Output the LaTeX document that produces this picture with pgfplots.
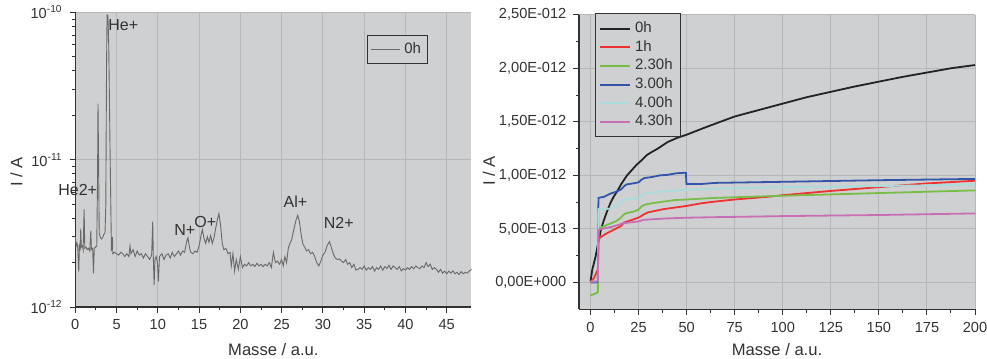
\documentclass[border=0pt]{standalone}
\usepackage{pgfplots}
\pgfplotsset{compat=1.18}
\usepackage{fontspec}
\setmainfont{Liberation Sans}
\definecolor{bg}{RGB}{207,208,210}
\definecolor{gridc}{RGB}{182,183,185}
\definecolor{spec}{RGB}{105,105,105}
\definecolor{c0}{RGB}{35,35,35}
\definecolor{c1}{RGB}{238,50,50}
\definecolor{c2}{RGB}{120,190,70}
\definecolor{c3}{RGB}{50,85,170}
\definecolor{c4}{RGB}{170,220,220}
\definecolor{c5}{RGB}{200,110,180}
\definecolor{txt}{RGB}{50,50,50}
\pgfplotsset{
  common/.style={
    scale only axis,
    anchor=south west,
    axis background/.style={fill=bg},
    axis x line*=bottom, axis y line*=left,
    axis line style={draw=txt, line width=0.6pt},
    tick style={draw=txt, line width=0.5pt},
    tick align=outside,
    major tick length=2.8pt, minor tick length=1.6pt,
    grid=major,
    major grid style={draw=gridc, line width=0.5pt},
    /pgf/number format/assume math mode=true,
    tick label style={font=\fontsize{7.3}{8}\selectfont, text=txt},
    label style={font=\fontsize{8.3}{9}\selectfont, text=txt},
    legend cell align=left,
    legend style={fill=bg, draw=txt, line width=0.5pt, font=\fontsize{7.5}{8}\selectfont, text=txt},
    clip=false,
  }
}
\begin{document}
\begin{tikzpicture}
\path[use as bounding box] (0,0) rectangle (493.5pt,179.5pt);
% ---------------- left panel
\begin{axis}[common,
  at={(37.65pt,26pt)}, width=198.1pt, height=147.35pt,
  xmin=0, xmax=48, ymode=log, ymin=1, ymax=100,
  xtick={0,5,...,45}, minor x tick num=1,
  ytick={1,10,100}, yticklabels={10\textsuperscript{-12},10\textsuperscript{-11},10\textsuperscript{-10}},
  xlabel={Masse / a.u.}, ylabel={I / A},
  xlabel style={at={(rel axis cs:0.5,0)}, anchor=center, yshift=-21.5pt},
  ylabel style={at={(rel axis cs:0,0.458)}, anchor=center, rotate=0, yshift=29.4pt},
  legend style={at={(rel axis cs:0.736,0.923)}, anchor=north west, inner sep=1.5pt},
  legend image code/.code={\draw[#1] (0pt,0pt) -- (14.5pt,0pt);},
]
\addplot[spec, line width=0.45pt] coordinates {
(0.00,3.0)(0.10,2.6)(0.20,2.7)(0.30,2.55)(0.42,1.74)(0.50,2.6)(0.60,2.5)(0.66,3.4)(0.72,2.55)(0.85,2.6)(0.95,2.45)(1.07,4.6)(1.15,2.5)(1.30,2.55)(1.45,2.45)(1.60,2.5)(1.75,2.4)(1.88,3.3)(1.95,2.45)(2.10,2.5)(2.20,1.69)(2.30,2.5)(2.45,2.55)(2.60,2.6)(2.70,8)(2.75,24)(2.82,10)(2.90,3.2)(3.00,3.0)(3.15,2.9)(3.30,2.95)(3.45,3.1)(3.60,3.2)(3.70,5)(3.78,40)(3.85,96)(3.95,95)(4.05,60)(4.12,30)(4.20,13)(4.30,5)(4.38,2.4)(4.50,2.98)(4.55,2.3)(4.75,2.35)(5.00,2.3)(5.25,2.25)(5.50,2.35)(5.75,2.3)(6.00,2.2)(6.25,2.3)(6.50,2.2)(6.63,2.6)(6.75,2.3)(7.00,2.45)(7.25,2.2)(7.50,2.4)(7.75,2.25)(8.00,2.3)(8.25,2.15)(8.50,2.3)(8.75,2.2)(9.00,2.1)(9.25,2.25)(9.38,3.8)(9.45,2.2)(9.55,1.41)(9.65,2.1)(9.80,2.2)(9.95,2.0)(10.07,1.49)(10.20,2.2)(10.50,2.3)(10.75,2.1)(11.00,2.25)(11.25,2.3)(11.50,2.15)(11.75,2.35)(12.00,2.2)(12.25,2.3)(12.50,2.4)(12.75,2.25)(13.00,2.4)(13.25,2.35)(13.50,2.8)(13.65,2.95)(13.85,2.5)(14.00,2.35)(14.25,2.3)(14.50,2.4)(14.75,2.35)(15.00,2.6)(15.25,3.1)(15.40,3.35)(15.60,2.9)(15.80,2.7)(16.00,3.0)(16.20,2.75)(16.40,3.05)(16.60,2.7)(16.80,2.95)(17.00,3.4)(17.25,4.0)(17.40,4.3)(17.60,3.6)(17.80,2.7)(18.00,2.45)(18.25,2.5)(18.50,2.3)(18.75,2.35)(18.90,1.9)(19.10,2.3)(19.30,1.75)(19.50,2.1)(19.75,1.8)(20.00,2.2)(20.25,1.85)(20.50,1.95)(20.75,1.9)(21.00,2.0)(21.25,1.9)(21.50,1.95)(21.75,1.88)(22.00,1.98)(22.25,1.9)(22.50,1.95)(22.75,1.88)(23.00,1.95)(23.25,1.9)(23.50,2.0)(23.75,1.85)(24.00,2.35)(24.25,2.0)(24.50,2.05)(24.75,1.95)(25.00,2.1)(25.20,1.9)(25.40,2.2)(25.60,2.0)(25.80,2.5)(26.00,2.7)(26.20,2.85)(26.50,3.4)(26.75,3.9)(26.95,4.2)(27.15,3.8)(27.40,3.0)(27.60,2.65)(27.80,2.55)(28.00,2.4)(28.25,2.45)(28.50,2.3)(28.75,2.35)(29.00,2.2)(29.25,2.0)(29.50,1.9)(29.75,2.05)(30.00,2.25)(30.25,2.35)(30.50,2.6)(30.80,2.78)(31.00,2.55)(31.25,2.3)(31.50,2.15)(31.75,2.1)(32.00,2.12)(32.25,2.05)(32.50,2.0)(32.75,2.1)(33.00,1.95)(33.25,2.0)(33.50,1.85)(33.75,1.95)(34.00,1.78)(34.25,1.8)(34.50,1.85)(34.75,1.8)(35.00,1.9)(35.25,1.78)(35.50,1.85)(35.75,1.8)(36.00,1.88)(36.25,1.75)(36.50,1.85)(36.75,1.8)(37.00,1.9)(37.25,1.78)(37.50,1.88)(37.75,1.82)(38.00,1.92)(38.25,1.8)(38.50,1.9)(38.75,1.85)(39.00,1.8)(39.25,1.88)(39.50,1.76)(39.75,1.82)(40.00,1.78)(40.25,1.85)(40.50,1.8)(40.75,1.88)(41.00,1.82)(41.25,1.9)(41.50,1.85)(41.75,1.82)(42.00,1.9)(42.25,1.85)(42.50,2.0)(42.75,1.88)(43.00,1.95)(43.25,1.8)(43.50,1.85)(43.75,1.8)(44.00,1.72)(44.25,1.8)(44.50,1.7)(44.75,1.75)(45.00,1.68)(45.25,1.75)(45.50,1.7)(45.75,1.76)(46.00,1.68)(46.25,1.72)(46.50,1.66)(46.75,1.74)(47.00,1.68)(47.25,1.72)(47.50,1.7)(47.75,1.76)(48.00,1.8)
};
\addlegendentry{0h}
\begin{scope}[every node/.style={font=\fontsize{8}{9}\selectfont, text=txt, inner sep=0pt, anchor=west}]
\node at (axis cs:3.96,82) {He+};
\node at (axis cs:-2.1,6.22) {He2+};
\node at (axis cs:11.96,3.33) {N+};
\node at (axis cs:14.39,3.79) {O+};
\node at (axis cs:25.2,5.19) {Al+};
\node at (axis cs:30.06,3.73) {N2+};
\end{scope}
\end{axis}
% ---------------- right panel
\begin{axis}[common,
  at={(289.5pt,24.85pt)}, width=198pt, height=147.3pt,
  xmin=-6, xmax=200, ymin=-0.25, ymax=2.5,
  xtick={0,25,...,200}, minor x tick num=1,
  ytick={0,0.5,...,2.5}, minor y tick num=1,
  yticklabels={{0,00E+000},{5,00E-013},{1,00E-012},{1,50E-012},{2,00E-012},{2,50E-012}},
  xlabel={Masse / a.u.}, ylabel={I / A},
  xlabel style={at={(rel axis cs:0.5,0)}, anchor=center, yshift=-20.35pt},
  ylabel style={at={(rel axis cs:0,0.469)}, anchor=center, rotate=0, yshift=45pt},
  legend style={at={(rel axis cs:0.04,1.005)}, anchor=north west, inner sep=2pt, row sep=-1.6pt},
  legend image code/.code={\draw[#1] (0pt,0pt) -- (15pt,0pt);},
  every axis plot/.append style={line width=0.9pt},
]
\addplot[c0] coordinates {(0,0.01)(0.9,0.12)(2.6,0.24)(4.3,0.40)(5.5,0.5)(6.9,0.58)(8.5,0.66)(10.3,0.74)(12,0.80)(13.8,0.85)(16,0.92)(19,1.00)(21.5,1.05)(24,1.10)(26.5,1.14)(29.3,1.19)(32,1.22)(35,1.25)(40,1.31)(45,1.35)(50,1.38)(60,1.45)(75,1.55)(87.5,1.61)(100,1.67)(112.5,1.73)(125,1.78)(137.5,1.83)(150,1.875)(162.5,1.92)(175,1.96)(187.5,2.0)(200,2.03)};
\addlegendentry{0h}
\addplot[c1] coordinates {(0,0)(1.7,0.04)(3,0.09)(3.8,0.12)(4.2,0.40)(5,0.42)(7.5,0.45)(10.3,0.476)(14,0.51)(16,0.53)(17.5,0.56)(20,0.575)(24,0.60)(25.5,0.61)(27.6,0.635)(30,0.655)(34,0.67)(38,0.685)(44,0.70)(50,0.715)(57.8,0.74)(65,0.756)(75,0.775)(92,0.80)(100,0.815)(125,0.855)(157,0.90)(175,0.925)(200,0.95)};
\addlegendentry{1h}
\addplot[c2] coordinates {(0,-0.12)(3,-0.10)(3.8,-0.09)(4.1,0.50)(5,0.51)(7.5,0.53)(10.3,0.55)(13,0.57)(15.5,0.60)(17,0.63)(18.5,0.647)(22,0.66)(25,0.68)(26.5,0.71)(28,0.725)(32,0.74)(38,0.755)(44,0.77)(50,0.775)(65,0.79)(100,0.81)(150,0.835)(200,0.86)};
\addlegendentry{2.30h}
\addplot[c3] coordinates {(0,0)(3,0)(3.8,0.01)(4.0,0.69)(4.2,0.79)(7,0.80)(10.3,0.83)(13,0.845)(15.5,0.865)(17,0.89)(18.5,0.915)(22,0.925)(25,0.935)(26.5,0.96)(28,0.975)(32,0.985)(36,1.0)(40,1.005)(44.8,1.02)(49.6,1.025)(49.9,0.92)(57.8,0.92)(65,0.93)(100,0.94)(150,0.955)(200,0.967)};
\addlegendentry{3.00h}
\addplot[c4] coordinates {(0,0.01)(3,0.01)(3.8,0.02)(4.1,0.685)(7,0.685)(10.3,0.69)(13,0.71)(15.5,0.74)(17,0.76)(18.5,0.775)(22,0.78)(25,0.787)(26.5,0.815)(28,0.83)(32,0.84)(38,0.85)(50,0.865)(65,0.877)(100,0.89)(150,0.90)(200,0.915)};
\addlegendentry{4.00h}
\addplot[c5] coordinates {(0,0.01)(3,0.01)(3.8,0.02)(4.1,0.49)(7,0.505)(10.3,0.516)(14,0.535)(17,0.553)(20,0.56)(25,0.57)(27.6,0.585)(32,0.59)(38,0.597)(50,0.605)(65,0.61)(100,0.62)(150,0.63)(200,0.645)};
\addlegendentry{4.30h}
\end{axis}
\end{tikzpicture}
\end{document}
